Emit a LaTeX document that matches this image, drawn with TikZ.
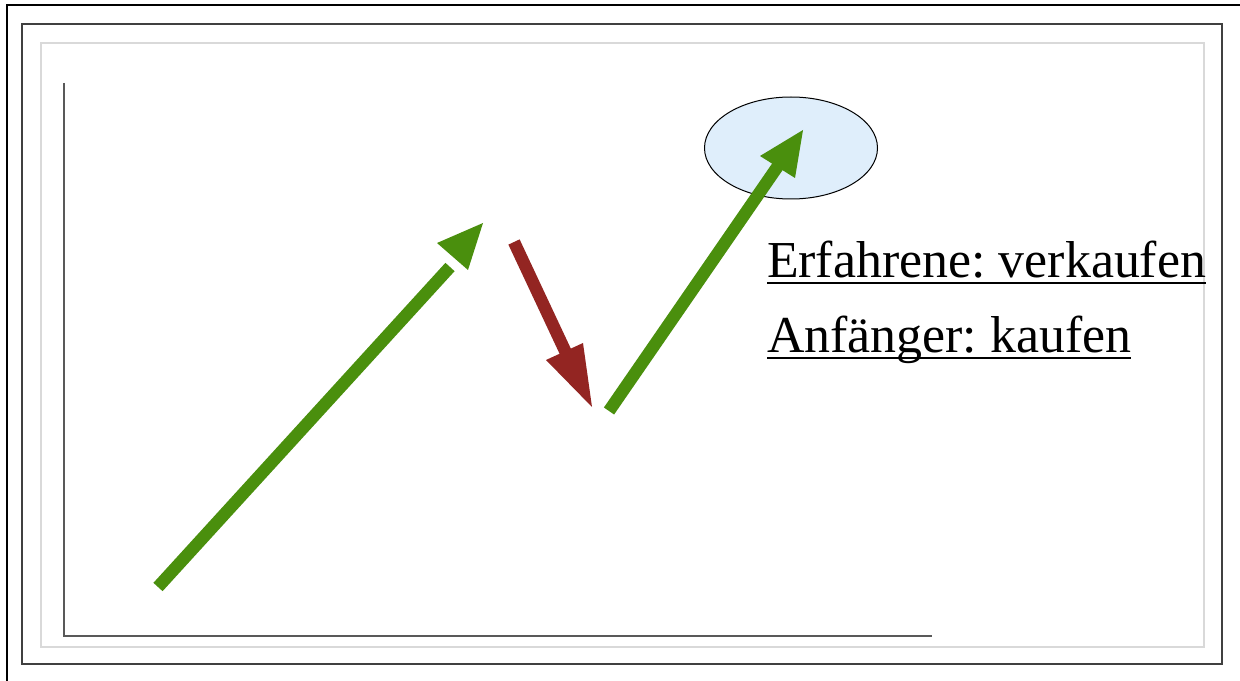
\documentclass[tikz,border=0pt]{standalone}
\usepackage{fontspec}
\setmainfont{Liberation Serif}
\frenchspacing

\newlength{\du}
\setlength{\du}{15\unitlength}

\begin{document}
\begin{tikzpicture}
\pgftransformxscale{1.000000}
\pgftransformyscale{-1.000000}
\useasboundingbox (0.000000\du,0.000000\du) rectangle (62.000000\du,34.050000\du);
% page frame, cut by the right and bottom edge
\definecolor{dialinecolor}{rgb}{0.000000, 0.000000, 0.000000}
\pgfsetstrokecolor{dialinecolor}
\pgfsetlinewidth{0.120000\du}
\pgfsetdash{}{0pt}
\pgfsetmiterjoin
\draw (0.350000\du,34.200000\du)--(0.350000\du,0.250000\du)--(62.200000\du,0.250000\du);
\pgfsetlinewidth{0.080000\du}
\definecolor{dialinecolor}{rgb}{0.250000, 0.250000, 0.250000}
\pgfsetstrokecolor{dialinecolor}
\draw (1.100000\du,1.200000\du)--(1.100000\du,33.200000\du)--(61.100000\du,33.200000\du)--(61.100000\du,1.200000\du)--cycle;
\pgfsetlinewidth{0.100000\du}
\definecolor{dialinecolor}{rgb}{0.850000, 0.850000, 0.850000}
\pgfsetstrokecolor{dialinecolor}
\draw (2.050000\du,2.150000\du)--(2.050000\du,32.350000\du)--(60.200000\du,32.350000\du)--(60.200000\du,2.150000\du)--cycle;
% axes
\pgfsetlinewidth{0.070000\du}
\definecolor{dialinecolor}{rgb}{0.350000, 0.350000, 0.350000}
\pgfsetstrokecolor{dialinecolor}
\draw (3.200000\du,4.150000\du)--(3.200000\du,31.800000\du)--(46.600000\du,31.800000\du);
% ellipse at the top
\pgfsetlinewidth{0.050000\du}
\definecolor{dialinecolor}{rgb}{0.874510, 0.933333, 0.984314}
\pgfsetfillcolor{dialinecolor}
\fill (39.550000\du,7.400000\du) ellipse [x radius=4.325000\du, y radius=2.550000\du];
\definecolor{dialinecolor}{rgb}{0.000000, 0.000000, 0.000000}
\pgfsetstrokecolor{dialinecolor}
\draw (39.550000\du,7.400000\du) ellipse [x radius=4.325000\du, y radius=2.550000\du];
% first rise
\pgfsetlinewidth{0.620000\du}
\pgfsetbuttcap
\definecolor{dialinecolor}{rgb}{0.290196, 0.560784, 0.050980}
\pgfsetstrokecolor{dialinecolor}
\pgfsetfillcolor{dialinecolor}
\draw (7.900000\du,29.350000\du)--(22.500000\du,13.350000\du);
\fill (24.150000\du,11.150000\du)--(21.850000\du,12.150000\du)--(23.400000\du,13.500000\du)--cycle;
% fall
\definecolor{dialinecolor}{rgb}{0.576471, 0.145098, 0.133333}
\pgfsetstrokecolor{dialinecolor}
\pgfsetfillcolor{dialinecolor}
\draw (25.700000\du,12.100000\du)--(28.350000\du,17.750000\du);
\fill (29.600000\du,20.350000\du)--(27.300000\du,18.000000\du)--(29.150000\du,17.150000\du)--cycle;
% second rise
\definecolor{dialinecolor}{rgb}{0.290196, 0.560784, 0.050980}
\pgfsetstrokecolor{dialinecolor}
\pgfsetfillcolor{dialinecolor}
\draw (30.450000\du,20.550000\du)--(39.000000\du,8.150000\du);
\fill (40.150000\du,6.500000\du)--(38.000000\du,7.800000\du)--(39.750000\du,8.900000\du)--cycle;
% setfont left to latex
\definecolor{dialinecolor}{rgb}{0.000000, 0.000000, 0.000000}
\pgfsetstrokecolor{dialinecolor}
\pgfsetlinewidth{0.100000\du}
\node[anchor=base west,inner sep=0pt,outer sep=0pt,font=\fontsize{38.9}{46}\selectfont] (erfahrene) at (38.350000\du,13.850000\du){Erfahrene: verkaufen};
\node[anchor=base west,inner sep=0pt,outer sep=0pt,font=\fontsize{38.9}{46}\selectfont] (anfaenger) at (38.350000\du,17.600000\du){Anfänger: kaufen};
\pgfsetlinewidth{0.120000\du}
\draw ([yshift=0.300000\du]erfahrene.base west)--([yshift=0.300000\du]erfahrene.base east);
\draw ([yshift=0.300000\du]anfaenger.base west)--([yshift=0.300000\du]anfaenger.base east);
\end{tikzpicture}
\end{document}
